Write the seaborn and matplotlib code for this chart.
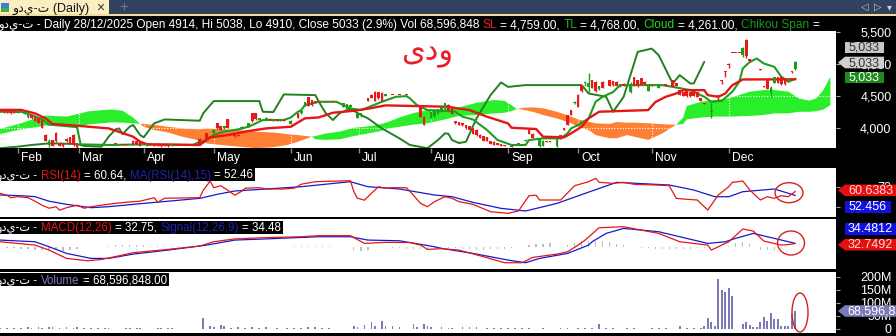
import numpy as np
import matplotlib
matplotlib.use("Agg")
import matplotlib.pyplot as plt
import matplotlib.transforms as mtransforms
from matplotlib.patches import Rectangle, Ellipse, Polygon
import seaborn as sns

# ---------------- data (x = trading-session index, 0 = late Jan 2025) ----------------
month_names = ["Feb", "Mar", "Apr", "May", "Jun", "Jul", "Aug", "Sep", "Oct", "Nov", "Dec"]
month_bars = [5, 22.5, 41, 61, 83, 102.5, 123, 145, 165, 186, 208]
price_ticks = [4000, 4500, 5000, 5500]

cdl_bar = ([1, 2, 3, 4, 5, 7, 8, 9, 10, 11, 12, 13, 14, 15, 16, 17, 18, 19, 20, 21, 22]
           + [33, 35, 36, 38, 39, 40, 42, 44, 45, 46, 47, 48, 49, 57, 59]
           + [61, 62, 63, 64, 65, 67, 68, 69, 71, 72, 73, 74, 76, 77, 78, 79, 80, 81, 83, 85, 86, 87, 88, 89, 90]
           + [91, 93, 95, 98, 99, 100, 102, 103, 105, 106, 107, 108, 109, 110, 112, 114, 116]
           + [120, 121, 123, 124, 125, 126, 127, 128, 129, 130, 131, 132, 133, 134, 135, 136, 137, 138, 139, 140, 141, 142, 143, 144, 146]
           + [148, 150, 151, 152, 154, 155, 156, 157, 159, 160, 161, 162, 163, 164, 165, 166, 167, 168, 169, 170, 171, 172]
           + [174, 175, 176, 177, 178, 180, 181, 182, 183, 184, 185, 186, 188, 190, 192, 193, 194, 195, 196, 197, 198, 199, 200, 201, 203]
           + [205, 206, 207, 208, 209, 210, 211, 212, 213, 214, 217, 218, 219, 220, 221, 222, 223, 224, 225, 226, 227])
cdl_open = ([4277, 4250, 4260, 4265, 4230, 4225, 4170, 4200, 4173, 4150, 4120, 3890, 3730, 3810, 3920, 3760, 3740, 3830, 3850, 3890, 3750]
            + [3760, 3740, 3750, 3800, 3790, 3780, 3720, 3740, 3745, 3735, 3740, 3730, 3715, 3830, 3920]
            + [3913, 4069, 4020, 3990, 4130, 3890, 3880, 3990, 4017, 4225, 4225, 4121, 4121, 4140, 4110, 4130, 4110, 4125, 4060, 4225, 4225, 4340, 4480, 4430, 4420]
            + [4410, 4410, 4410, 4330, 4300, 4330, 4150, 4180, 4459, 4520, 4560, 4560, 4550, 4500, 4515, 4515, 4515]
            + [4355, 4173, 4150, 4180, 4220, 4250, 4290, 4360, 4320, 4100, 4090, 4070, 4040, 4020, 3990, 3970, 3890, 3870, 3850, 3790, 3780, 3760, 3745, 3730, 3720]
            + [3740, 3800, 3990, 3910, 3710, 3720, 3790, 3790, 3710, 3880, 3990, 4200, 4280, 4380, 4520, 4670, 4700, 4640, 4750, 4720, 4600, 4720]
            + [4740, 4730, 4720, 4650, 4690, 4560, 4790, 4750, 4780, 4720, 4580, 4670, 4620, 4680, 4750, 4700, 4590, 4560, 4570, 4560, 4570, 4560, 4460, 4380, 4240]
            + [4510, 4746, 4890, 5006, 5175, 5175, 5175, 5140, 5370, 5070, 4912, 4650, 4760, 4560, 4700, 4790, 4790, 4750, 4740, 4891, 4914])
cdl_high = ([4290, 4262, 4270, 4270, 4255, 4262, 4205, 4205, 4180, 4160, 4130, 3900, 3830, 3815, 3930, 3770, 3750, 3840, 3860, 3895, 3760]
            + [3765, 3750, 3752, 3810, 3795, 3790, 3750, 3745, 3750, 3740, 3745, 3735, 3745, 3840, 3925]
            + [3975, 4075, 4030, 4025, 4140, 3890, 3885, 4020, 4075, 4230, 4230, 4150, 4165, 4145, 4135, 4135, 4130, 4130, 4115, 4230, 4275, 4405, 4485, 4435, 4425]
            + [4412, 4412, 4412, 4385, 4375, 4365, 4230, 4235, 4465, 4525, 4570, 4565, 4555, 4535, 4517, 4517, 4517]
            + [4360, 4180, 4245, 4265, 4295, 4335, 4385, 4365, 4325, 4105, 4095, 4075, 4045, 4025, 3995, 3975, 3895, 3875, 3855, 3795, 3785, 3765, 3750, 3735, 3725]
            + [3765, 3820, 3995, 3915, 3835, 3805, 3795, 3795, 3825, 3885, 3995, 4205, 4285, 4415, 4525, 4675, 4725, 4850, 4755, 4725, 4655, 4725]
            + [4745, 4735, 4725, 4685, 4695, 4720, 4795, 4755, 4785, 4725, 4665, 4675, 4665, 4685, 4755, 4705, 4595, 4565, 4575, 4565, 4575, 4565, 4465, 4385, 4390]
            + [4512, 4748, 4892, 5008, 5177, 5177, 5177, 5270, 5390, 5075, 4914, 4655, 4765, 4650, 4795, 4795, 4795, 4755, 4765, 4893, 5038])
cdl_low = ([4230, 4235, 4215, 4228, 4225, 4220, 4160, 4140, 4100, 4070, 3990, 3790, 3700, 3710, 3780, 3710, 3700, 3780, 3740, 3720, 3690]
           + [3740, 3725, 3730, 3725, 3735, 3715, 3715, 3715, 3710, 3705, 3715, 3705, 3710, 3735, 3815]
           + [3905, 3985, 3965, 3985, 3995, 3860, 3865, 3985, 4010, 4095, 4125, 4115, 4115, 4120, 4105, 4105, 4105, 4105, 4055, 4145, 4220, 4335, 4335, 4345, 4395]
           + [4405, 4405, 4405, 4325, 4295, 4325, 4145, 4175, 4415, 4465, 4415, 4455, 4415, 4495, 4508, 4508, 4508]
           + [4165, 4045, 4145, 4175, 4215, 4245, 4285, 4275, 4215, 4065, 4045, 4035, 3985, 3965, 3905, 3875, 3835, 3795, 3785, 3745, 3730, 3725, 3715, 3710, 3695]
           + [3735, 3795, 3895, 3835, 3705, 3715, 3775, 3775, 3705, 3825, 3960, 4045, 4195, 4375, 4325, 4565, 4650, 4560, 4615, 4565, 4595, 4615]
           + [4655, 4660, 4655, 4645, 4655, 4540, 4655, 4645, 4665, 4675, 4575, 4655, 4615, 4655, 4635, 4655, 4515, 4495, 4485, 4485, 4495, 4475, 4415, 4365, 4150]
           + [4440, 4680, 4800, 4930, 5168, 5168, 5168, 5110, 5100, 5035, 4900, 4635, 4605, 4480, 4695, 4695, 4675, 4675, 4735, 4860, 4910])
cdl_close = ([4240, 4245, 4225, 4235, 4250, 4251, 4200, 4150, 4110, 4080, 4000, 3800, 3800, 3720, 3790, 3720, 3710, 3790, 3750, 3730, 3700]
             + [3745, 3730, 3735, 3730, 3740, 3720, 3740, 3720, 3715, 3710, 3720, 3710, 3740, 3740, 3820]
             + [3965, 3990, 3970, 4020, 4000, 3870, 3870, 4017, 4069, 4100, 4130, 4147, 4160, 4125, 4130, 4110, 4125, 4110, 4110, 4150, 4270, 4400, 4340, 4350, 4400]
             + [4407, 4407, 4407, 4380, 4370, 4360, 4225, 4230, 4420, 4470, 4420, 4460, 4420, 4530, 4511, 4511, 4511]
             + [4173, 4050, 4240, 4260, 4290, 4330, 4380, 4280, 4220, 4070, 4050, 4040, 3990, 3970, 3910, 3880, 3840, 3800, 3790, 3750, 3735, 3730, 3720, 3715, 3700]
             + [3760, 3815, 3900, 3840, 3830, 3800, 3780, 3780, 3820, 3830, 3965, 4050, 4200, 4410, 4330, 4570, 4720, 4700, 4620, 4570, 4650, 4620]
             + [4660, 4670, 4660, 4680, 4660, 4690, 4660, 4650, 4670, 4680, 4660, 4660, 4660, 4660, 4640, 4660, 4520, 4500, 4490, 4490, 4500, 4480, 4420, 4370, 4260]
             + [4500, 4730, 4870, 4990, 5172, 5172, 5172, 5250, 5120, 5040, 4905, 4640, 4610, 4620, 4790, 4700, 4680, 4680, 4760, 4876, 5033])

# Ichimoku lines (breakpoints)
kijun_bar = [0, 6, 10, 13, 15, 23, 31, 33, 38, 40, 42, 57, 60, 65, 71, 76, 83, 87, 91, 95, 101, 105, 110, 128,
             131, 134, 139, 145, 146, 153, 155, 161, 163, 166, 168, 171, 185, 187, 190, 193, 195, 201, 202, 205,
             207, 209, 212, 227]
kijun = [4280, 4280, 4225, 4147, 4060, 4027, 3990, 3954, 3860, 3782, 3740, 3730, 3850, 3886, 3949, 3990, 4016,
         4147, 4162, 4235, 4266, 4298, 4350, 4329, 4300, 4277, 4173, 4068, 4000, 3980, 3860, 3850, 3912, 4016,
         4147, 4251, 4277, 4400, 4485, 4537, 4589, 4589, 4511, 4485, 4537, 4667, 4756, 4759]
tenkan_bar = [0, 6, 9, 12, 14, 22, 23, 32, 40, 55, 57, 59, 61, 64, 68, 71, 73, 75, 81, 83, 85, 86, 87, 91, 96,
              98, 100, 103, 106, 109, 113, 116, 117, 119, 122, 127, 130, 132, 135, 139, 142, 146, 150, 151, 155,
              160, 162, 163, 165, 168, 170, 172, 175, 177, 189, 192, 197, 201, 203, 206, 209, 211, 212, 214, 216,
              218, 221, 223, 225, 227]
tenkan = [4250, 4250, 4200, 4130, 4050, 4010, 3740, 3730, 3740, 3730, 3780, 3810, 3890, 3940, 3975, 4017, 4069,
          4121, 4121, 4160, 4250, 4277, 4355, 4407, 4407, 4355, 4303, 4277, 4340, 4407, 4485, 4495, 4460, 4355,
          4277, 4266, 4250, 4173, 4130, 3965, 3808, 3730, 3730, 3808, 3834, 3834, 3913, 3990, 4043, 4147, 4407,
          4485, 4560, 4668, 4668, 4640, 4590, 4485, 4407, 4420, 4564, 4720, 4928, 5032, 5084, 5006, 4954, 4798,
          4720, 4768]
chikou_bar = [0, 5, 9, 14, 22, 24, 29, 31, 33, 34, 35, 37, 38, 40, 41, 44, 47, 57, 58, 60, 61, 74, 75, 78, 81,
              90, 91, 93, 95, 97, 100, 103, 105, 109, 114, 117, 122, 125, 127, 128, 129, 131, 133, 136, 140, 143,
              145, 150, 166, 168, 173, 175, 178, 182, 186, 188, 192, 194, 197, 198, 201]
chikou = [3680, 3704, 3730, 3756, 3745, 3715, 3704, 3860, 3975, 3990, 3900, 4017, 4043, 3886, 3850, 4069, 4130,
          4110, 4225, 4355, 4418, 4418, 4251, 4245, 4522, 4511, 4407, 4225, 4121, 4230, 4300, 4200, 4147, 3990,
          3834, 3730, 3680, 3808, 3913, 3905, 3808, 3760, 3782, 4147, 4511, 4710, 4640, 4668, 4668, 4537, 4485,
          4251, 4485, 5188, 5240, 5136, 4694, 4824, 4694, 4694, 5032]
cloud_bar = [0, 6, 11, 13, 19, 23, 25, 29, 32, 35, 38, 40, 41, 44, 48, 52, 57, 59, 63, 68, 73, 78, 82, 85, 89,
             90, 93, 97, 101, 104, 108, 111, 114, 118, 122, 127, 131, 136, 141, 144, 146, 147.5, 149, 152, 155,
             159, 163, 165, 168, 170, 174, 176, 179, 181, 185, 189, 192, 193, 195, 196, 200, 204, 208, 214, 218,
             221, 225, 228, 231, 233, 235, 237]
span_a = [3980, 4070, 4160, 4190, 4175, 4225, 4255, 4275, 4285, 4265, 4160, 4060, 4015, 3965, 3925, 3860, 3800,
          3755, 3730, 3705, 3680, 3695, 3730, 3780, 3860, 3870, 3910, 3940, 4000, 4015, 4045, 4095, 4160, 4230,
          4275, 4285, 4320, 4390, 4435, 4420, 4355, 4292, 4285, 4250, 4200, 4145, 4070, 4015, 3965, 3885, 3835,
          3835, 3885, 3860, 3810, 3910, 4015, 4045, 4160, 4340, 4405, 4435, 4460, 4565, 4590, 4590, 4565, 4460,
          4425, 4460, 4590, 4800]
span_b = [3900, 3975, 4015, 4035, 4035, 4015, 4050, 4070, 4085, 4080, 4070, 4060, 4060, 4045, 4015, 3990, 3975,
          3990, 3980, 3965, 3940, 3925, 3900, 3885, 3860, 3820, 3810, 3820, 3870, 3900, 3940, 3990, 4015, 4050,
          4070, 4130, 4185, 4200, 4225, 4235, 4260, 4292, 4310, 4320, 4305, 4250, 4175, 4130, 4095, 4070, 4060,
          4090, 4080, 4080, 4070, 4055, 4050, 4045, 4060, 4130, 4160, 4175, 4175, 4185, 4200, 4225, 4225, 4250,
          4250, 4260, 4285, 4355]

# RSI(14) and its 15-period MA
rsi_bar = [0, 2, 3, 5, 8, 10, 12, 14, 16, 17, 19, 22, 24, 26, 29, 31, 36, 40, 44, 45, 47, 57, 58, 60, 61, 63, 65,
           67, 69, 70, 74, 76, 81, 84, 86, 90, 100, 101, 102, 104, 106, 108, 110, 112, 116, 118, 120, 122, 124,
           127, 129, 131, 135, 140, 145, 148, 149, 151, 153, 154, 160, 164, 168, 170, 171, 175, 178, 181, 187,
           191, 193, 195, 199, 202, 205, 208, 209, 212, 214, 217, 219, 221, 223, 225, 227]
rsi = [56.7, 53, 48, 50, 48, 41, 33, 27, 30, 23, 28, 33, 27, 30, 33, 35, 39, 41, 48, 39, 47, 48, 63, 81, 68, 72,
       63, 53, 61, 67, 68, 65.4, 65.4, 67, 75, 80, 82, 60, 47, 43, 56.7, 70, 67, 68, 68, 53, 36.7, 30, 40, 50,
       46.7, 40, 34.7, 20, 16.7, 21.4, 32, 52, 53, 43.4, 43.4, 72, 80, 86.7, 78.7, 76.7, 78.7, 74.7, 73.4, 72,
       46.7, 45.4, 43.4, 23.4, 53.4, 70, 78.7, 81.4, 63.4, 43.4, 50, 46.7, 52, 50, 60.64]
rsi_ma_bar = [0, 6, 10, 14, 19, 26, 31, 38, 48, 57, 62, 67, 76, 86, 100, 105, 114, 124, 129, 135, 143, 150, 159,
              167, 176, 191, 198, 204, 208, 212, 221, 227]
rsi_ma = [53.4, 52, 50, 41, 34.7, 28, 30, 34.7, 41, 46.7, 54.7, 61.4, 65.4, 70, 80, 70, 65.4, 53.4, 50, 38.7,
          26.7, 21.4, 36.7, 56.7, 78.7, 73.4, 63.4, 50, 50, 60, 65.4, 52.46]

# MACD(12,26), Signal(12,26,9) and histogram
macd_bar = [0, 10, 14, 17, 19, 25, 29, 33, 38, 48, 57, 61, 67, 76, 86, 91, 100, 104, 110, 117, 120, 122, 126, 131,
            138, 144, 149, 152, 159, 162, 165, 167, 171, 178, 188, 194, 202, 203, 207, 208, 212, 215, 218, 223,
            225, 227]
macd = [51, 17, -34, -85, -119, -143, -129, -100, -61, -27, 7, 51, 80, 93, 102, 113, 113, 34, 45, 43, 17, -27,
        -20, -34, -102, -163, -163, -109, -75, -51, 17, 68, 194, 204, 136, 51, 17, -34, 34, 51, 181, 160, 58, 17,
        22, 32.75]
signal_bar = [0, 10, 14, 19, 26, 31, 38, 48, 59, 67, 76, 91, 100, 105, 114, 124, 126, 135, 145, 150, 154, 162,
              168, 169, 173, 178, 188, 202, 207, 210, 215, 219, 227]
signal = [68, 51, 0, -68, -119, -119, -75, -34, 17, 68, 80, 102, 102, 68, 61, 0, -17, -68, -136, -163, -119, -68,
          17, 51, 136, 187, 153, 34, 51, 86, 136, 102, 34.48]
hist_bar = ([2, 4, 6, 8, 10, 12, 14, 16, 18, 20, 22]
            + [31, 33, 35, 37, 39, 41, 43, 45, 47, 49, 51, 53, 55, 57]
            + [84, 86, 88, 90, 92, 94] + [101, 103, 105]
            + [112, 114, 116, 118, 120, 122, 124]
            + [126, 128, 130, 132, 134, 136, 138, 140, 142, 144, 146, 148]
            + [151, 153, 155, 157] + [162, 164, 166, 168, 170, 172, 174, 176, 178]
            + [183, 185, 187, 189, 191, 193, 195, 197, 199, 201]
            + [208, 210, 212, 214] + [217, 219, 221, 223, 225])
hist_val = ([-8, -12, -18, -25, -30, -35, -34, -35, -40, -30, -24]
            + [10, 14, 16, 18, 16, 14, 12, 10, 9, 8, 8, 7, 6, 5]
            + [8, 9, 10, 11, 11, 10] + [-30, -45, -35]
            + [-10, -15, -20, -25, -22, -27, -22]
            + [-10, -12, -15, -20, -25, -30, -30, -28, -27, -25, -15, -5]
            + [15, 25, 30, 35] + [20, 40, 55, 60, 58, 55, 45, 30, 20]
            + [-10, -15, -18, -20, -22, -22, -20, -18, -15, -15]
            + [10, 40, 45, 30] + [-30, -35, -30, -20, -5])

# Volume (millions)
vol_bar = [0, 2, 4, 6, 8, 9, 11, 12, 14, 15, 17, 19, 21, 22, 24, 26, 28, 30, 31, 36, 37, 39, 40, 45, 46, 48, 49,
           58, 60, 61, 63, 64, 66, 68, 70, 72, 74, 76, 79, 82, 84, 86, 88, 90, 92, 94, 101, 102, 104, 106, 107,
           109, 110, 112, 114, 118, 119, 121, 122, 123, 126, 128, 129, 132, 134, 136, 139, 141, 143, 145, 147,
           149, 151, 155, 160, 162, 165, 167, 169, 171, 173, 175, 179, 181, 186, 188, 190, 194, 196, 198, 200,
           201, 202, 203, 204, 205, 206, 207, 208, 209, 212, 213, 214, 215, 216, 217, 218, 219, 220, 221, 222,
           223, 224, 225, 226, 227]
vol_m = [3, 2, 3, 2, 6, 4, 8, 5, 7, 9, 5, 7, 4, 8, 3, 4, 3, 3, 2, 3, 2, 3, 2, 3, 5, 4, 3, 41, 12, 8, 14, 10, 5, 7,
         4, 6, 5, 6, 3, 4, 5, 4, 8, 6, 4, 3, 10, 8, 14, 25, 12, 31, 10, 12, 8, 18, 8, 18, 10, 8, 6, 4, 3, 8, 6, 7,
         4, 3, 5, 4, 3, 4, 3, 3, 4, 3, 4, 3, 5, 21, 4, 3, 3, 2, 3, 2, 3, 12, 4, 3, 3, 12, 41, 27, 13, 193, 150,
         141, 158, 128, 18, 25, 14, 8, 8, 25, 44, 31, 63, 38, 38, 12, 12, 12, 57, 68.596848]

sl_value, tl_value, cloud_value = 4759.00, 4768.00, 4261.00
rsi_last, rsi_ma_last = 60.6383, 52.456
macd_last, signal_last = 32.7492, 34.4812
vol_last = 68596848

# ---------------- figure ----------------
sns.set_theme(style="white")
plt.rcParams['font.family'] = ['Liberation Sans', 'DejaVu Sans']

W, H = 896, 336
fig = plt.figure(figsize=(W / 100, H / 100), dpi=100)
fig.patch.set_facecolor('black')


def px_axes(x0, y0, x1, y1):
    return fig.add_axes([x0 / W, 1 - y1 / H, (x1 - x0) / W, (y1 - y0) / H])


XL = (0, 238.6)
RED = '#e41616'
GRN = '#1f9c1f'
DGRN = '#22801f'
CLOUD_G = '#2bee2b'
CLOUD_O = '#ff7f35'
UP = '#1d9d1d'
DN = '#e51a1a'
BLUE = '#1818d0'
VOLC = '#7a7ab6'


def style_ax(a, ylim):
    a.set_xlim(*XL)
    a.set_ylim(*ylim)
    a.set_facecolor('white')
    for s in a.spines.values():
        s.set_visible(False)
    a.set_xticks([])
    a.set_xlabel('')
    a.set_ylabel('')
    a.yaxis.tick_right()
    a.tick_params(axis='y', colors='#a0a0a0', labelcolor='white', length=3, width=0.8,
                  direction='out', pad=37, labelsize=9)


# ---- main price panel ----
ax = px_axes(0, 31, 836, 148)
cb = np.array(cloud_bar, float)
sa = np.array(span_a, float)
sb = np.array(span_b, float)
ax.fill_between(cb, sa, sb, where=sa >= sb, interpolate=True, color=CLOUD_G, lw=0, zorder=1)
ax.fill_between(cb, sa, sb, where=sa < sb, interpolate=True, color=CLOUD_O, lw=0, zorder=1)
for m in month_bars:
    ax.axvline(m, color='white', lw=0.8, ls=(0, (1, 1.5)), zorder=2)
for p in price_ticks:
    ax.axhline(p, color='white', lw=0.8, ls=(0, (1, 1.5)), zorder=2)
sns.lineplot(x=chikou_bar, y=chikou, ax=ax, color=DGRN, linewidth=1.4, estimator=None, sort=False, zorder=3)
sns.lineplot(x=tenkan_bar, y=tenkan, ax=ax, color=GRN, linewidth=1.5, estimator=None, sort=False, zorder=3)
sns.lineplot(x=kijun_bar, y=kijun, ax=ax, color=RED, linewidth=1.7, estimator=None, sort=False, zorder=4)

xb = np.array(cdl_bar, float)
o = np.array(cdl_open, float)
c = np.array(cdl_close, float)
hi = np.array(cdl_high, float)
lo = np.array(cdl_low, float)
cols = np.where(c >= o, UP, DN)
ax.vlines(xb, lo, hi, colors=cols, lw=1.0, zorder=5)
ax.bar(xb, np.maximum(np.abs(c - o), 14), bottom=np.minimum(o, c), width=0.75, color=cols, lw=0, zorder=6)
style_ax(ax, (3683, 5515))
ax.set_yticks(price_ticks)
ax.set_yticklabels([f"{p:,}" for p in price_ticks], ha='right')

# ---- date strip ----
axd = px_axes(0, 148, 836, 165)
axd.set_xlim(*XL)
axd.set_ylim(0, 1)
axd.axis('off')
axd.vlines(month_bars, 0.68, 1.0, color='#8c8c8c', lw=1)
off = mtransforms.offset_copy(axd.transData, fig=fig, x=3, y=0, units='dots')
for m, n in zip(month_bars, month_names):
    axd.text(m, 0.24, n, transform=off, color='white', fontsize=8.7, va='baseline', ha='left')

# ---- RSI panel ----
axr = px_axes(0, 167.5, 836, 217)
sns.lineplot(x=rsi_ma_bar, y=rsi_ma, ax=axr, color=BLUE, linewidth=0.9, estimator=None, sort=False)
sns.lineplot(x=rsi_bar, y=rsi, ax=axr, color=RED, linewidth=0.9, estimator=None, sort=False)
style_ax(axr, (9.4, 108.4))
axr.set_yticks([30, 70])
axr.set_yticklabels(['30', '70'], ha='right')

# ---- MACD panel ----
axm = px_axes(0, 218.5, 836, 269)
axm.bar(hist_bar, hist_val, width=0.35, color='#bdbdbd', lw=0, zorder=1)
sns.lineplot(x=signal_bar, y=signal, ax=axm, color=BLUE, linewidth=0.9, estimator=None, sort=False, zorder=3)
sns.lineplot(x=macd_bar, y=macd, ax=axm, color=RED, linewidth=0.9, estimator=None, sort=False, zorder=3)
style_ax(axm, (-227, 288))
axm.set_yticks([])

# ---- Volume panel ----
axv = px_axes(0, 272, 836, 333)
axv.bar(vol_bar, vol_m, width=0.5, color=VOLC, lw=0)
style_ax(axv, (-15.3, 218))
axv.set_yticks([0, 50, 100, 150, 200])
axv.set_yticklabels(['0', '50M', '100M', '150M', '200M'], ha='right')

# ---- overlay (window chrome, headers, value tags, annotations) ----
ov = px_axes(0, 0, W, H)
ov.set_xlim(0, W)
ov.set_ylim(H, 0)
ov.axis('off')
renderer = fig.canvas.get_renderer()

sym = "\uFEED\uFEA9\uFEF1-\uFE95"


def text_w(s, fs):
    t = ov.text(0, 0, s, fontsize=fs)
    w = t.get_window_extent(renderer).width
    t.remove()
    return w


def seg_text(x, y, segs, fs=8.3):
    sp = text_w("a a", fs) - text_w("aa", fs)
    for s, col in segs:
        lead = len(s) - len(s.lstrip(' '))
        trail = len(s) - len(s.rstrip(' '))
        core = s.strip(' ')
        x += lead * sp
        if core:
            t = ov.text(x, y, core, color=col, fontsize=fs, va='baseline', ha='left', zorder=8)
            x += t.get_window_extent(renderer).width
        x += trail * sp
    return x


# tab bar
ov.add_patch(Rectangle((0, 0), W, 15, color='#33415e', lw=0, zorder=1))
ov.add_patch(Rectangle((0, 0), 109, 15, color='#fbefc2', lw=0, zorder=2))
ov.add_patch(Rectangle((0, 14.3), W, 1.4, color='#efdca0', lw=0, zorder=2))
ov.add_patch(Rectangle((1, 3), 8, 9, color='#3a7fd0', lw=0, zorder=3))
ov.add_patch(Rectangle((1, 8), 8, 4, color='#3fae3f', lw=0, zorder=3))
ov.text(13, 11.5, sym + " (Daily)", color='#111111', fontsize=9, va='baseline', zorder=4)
ov.text(96, 11.5, "\u00d7", color='#333333', fontsize=10, va='baseline', zorder=4)
ov.text(119, 11.5, "+", color='#6d7a95', fontsize=11, va='baseline', zorder=4)
for xx, ch in [(861, "\u25c1"), (874, "\u25b7"), (887, "\u25be")]:
    ov.text(xx, 10, ch, color='#c8cdd8', fontsize=7, va='baseline', zorder=4)

# main header
c_open, c_high, c_low, c_close = cdl_open[-1], cdl_high[-1], cdl_low[-1], cdl_close[-1]
pct = (c_close / 4891 - 1) * 100
seg_text(-2, 28, [
    (f"{sym} - Daily 28/12/2025 Open {c_open}, Hi {c_high}, Lo {c_low}, Close {c_close} ({pct:.1f}%) "
     f"Vol {vol_last:,} ", 'white'),
    ("SL", '#e82020'), (f" = {sl_value:,.2f}, ", 'white'),
    ("TL", '#1db01d'), (f" = {tl_value:,.2f}, ", 'white'),
    ("Cloud", '#22dd22'), (f" = {cloud_value:,.2f}, ", 'white'),
    ("Chikou Span", '#1a9a1a'), (" =", 'white')], fs=8.55)

# panel headers
x_end = seg_text(-3, 178.5, [(f"{sym} - ", 'white'), ("RSI(14)", '#e81414'), (f" = {rsi_last:.2f}, ", 'white'),
                             ("MA(RSI(14),15)", '#2222b0'), (f" = {rsi_ma_last:.2f}", 'white')])
ov.add_patch(Rectangle((0, 168), x_end + 2, 13, color='black', lw=0, zorder=7))
x_end = seg_text(-3, 231, [(f"{sym} - ", 'white'), ("MACD(12,26)", '#e81414'), (f" = {macd_last:.2f}, ", 'white'),
                           ("Signal(12,26,9)", '#2222b0'), (f" = {signal_last:.2f}", 'white')])
ov.add_patch(Rectangle((0, 221), x_end + 2, 12.5, color='black', lw=0, zorder=7))
x_end = seg_text(-3, 283.5, [(f"{sym} - ", 'white'), ("Volume", '#7c7cbc'), (f" = {vol_last:,.2f}", 'white')])
ov.add_patch(Rectangle((0, 272.5), x_end + 2, 13.5, color='black', lw=0, zorder=7))


def value_box(y, text, fc, tc, x1=884, arrow=False, h=11.6, ha='center'):
    if arrow:
        pts = [(838, y), (845, y - h / 2), (x1, y - h / 2), (x1, y + h / 2), (845, y + h / 2)]
    else:
        pts = [(845, y - h / 2), (x1, y - h / 2), (x1, y + h / 2), (845, y + h / 2)]
    ov.add_patch(Polygon(pts, closed=True, fc=fc, ec='none', zorder=5))
    if ha == 'center':
        ov.text((845 + x1) / 2, y + 0.5, text, color=tc, fontsize=9, ha='center', va='center', zorder=6)
    else:
        ov.text(847, y + 0.5, text, color=tc, fontsize=9, ha='left', va='center', zorder=6)


value_box(47.5, f"{c_close:,}", '#c6c6c6', '#333333')
value_box(62.5, f"{c_close:,}", '#d0d0d0', '#333333', arrow=True)
value_box(77.5, f"{c_close:,}", '#1d8c1d', 'white')
value_box(190.3, f"{rsi_last:.4f}", '#e41010', '#ffd8d8', x1=896, arrow=True)
value_box(207.0, f"{rsi_ma_last:.3f}", '#1010e0', 'white', x1=891)
value_box(228.8, f"{signal_last:.4f}", '#1010e0', 'white', x1=896)
value_box(244.7, f"{macd_last:.4f}", '#e41010', '#ffd8d8', x1=896, arrow=True)
value_box(311.0, f"{vol_last:,}", VOLC, 'white', x1=896, arrow=True, ha='left')

# hand-drawn annotations
ov.text(427, 54, "\uFEEF\uFEA9\uFEED", color='#e8202a', fontsize=22, ha='center', va='center',
        family='DejaVu Sans', zorder=9)
for (cx, cy, ew, eh) in [(789, 192.7, 28, 20), (791, 243, 27, 24), (800, 312.5, 16, 39)]:
    ov.add_patch(Ellipse((cx, cy), ew, eh, fill=False, ec='#d42020', lw=1.0, zorder=9))

fig.savefig("out.png", dpi=100, facecolor=fig.get_facecolor())
